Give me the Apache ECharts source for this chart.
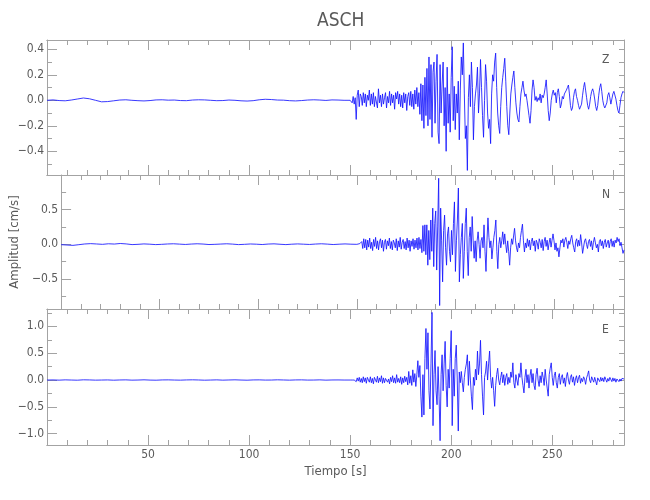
<!DOCTYPE html>
<html>
<head>
<meta charset="utf-8">
<script src="https://cdn.jsdelivr.net/npm/echarts@6/dist/echarts.min.js"></script>
<style>
html,body{margin:0;padding:0;background:#fff;}
#chart{width:650px;height:500px;}
</style>
</head>
<body>
<div id="chart"></div>
<script>
// ---- data ----
const title = 'ASCH';
const components = ['Z', 'N', 'E'];
const xLabel = 'Tiempo [s]';
const yLabel = 'Amplitud [cm/s]';
const xTicks = [50, 100, 150, 200, 250];

// quiet part: one value every 3 s, from 0 s to 147 s
const preStart = 0, preStep = 3;
const zPre = [0.000,0.003,-0.002,-0.004,0.002,0.010,0.018,0.012,0.000,-0.012,
  -0.010,-0.004,0.002,0.004,0.000,-0.003,-0.005,-0.002,0.003,0.004,
  0.001,0.002,-0.002,-0.003,0.002,0.004,0.003,0.000,-0.003,-0.002,
  0.002,0.000,-0.004,-0.006,-0.003,0.004,0.008,0.006,0.002,0.001,
  -0.003,-0.005,-0.002,0.002,0.004,0.002,-0.001,0.003,0.002,0.000];
const nPre = [-0.005,-0.010,-0.015,-0.005,0.005,0.010,0.005,0.000,0.008,0.004,
  0.012,0.006,-0.004,0.000,0.006,0.002,-0.004,0.000,0.005,0.008,
  0.003,-0.002,0.004,0.008,0.004,-0.003,0.000,0.004,0.008,0.003,
  -0.004,0.000,0.005,0.002,-0.003,0.004,0.007,0.001,-0.004,0.002,
  0.006,0.002,-0.002,0.004,0.008,0.003,-0.003,0.002,0.006,0.002];
const ePre = [0.000,0.002,-0.002,0.003,0.000,-0.003,0.004,0.002,-0.002,0.000,
  0.002,-0.003,0.001,0.003,-0.002,0.000,0.004,-0.001,-0.003,0.002,
  0.003,0.000,-0.002,0.002,0.004,0.001,-0.003,0.000,0.003,-0.002,
  0.001,0.004,0.000,-0.003,0.002,0.003,-0.001,0.000,0.004,0.001,
  -0.002,0.002,0.003,-0.001,0.000,0.003,-0.002,0.001,0.002,0.000];

// event part: one value every 0.5 s, from 150 s to 285.5 s (rows of 5 s)
const evStart = 150, evStep = 0.5;
const zEvent = [
  0.00,0.01,-0.02,0.03,-0.03,0.02,-0.15,0.04,0.08,-0.05,
  0.05,0.03,-0.04,0.06,-0.02,0.05,-0.05,0.04,0.00,0.08,
  -0.04,0.05,-0.03,0.06,-0.05,0.03,0.02,-0.06,0.09,-0.02,
  0.04,-0.05,0.05,-0.03,0.02,0.06,-0.06,0.03,-0.02,0.07,
  -0.04,0.05,-0.02,0.04,-0.07,0.06,0.01,0.07,-0.03,0.05,
  -0.05,0.04,-0.06,0.06,-0.02,0.05,-0.08,0.03,0.06,-0.04,
  0.07,-0.05,0.05,-0.07,0.08,-0.03,0.10,-0.05,0.06,-0.11,
  0.13,-0.16,0.12,-0.22,0.18,-0.12,0.25,-0.20,0.34,-0.15,
  0.28,-0.29,0.22,0.30,-0.18,0.15,0.36,-0.25,-0.34,0.28,
  -0.10,0.12,0.30,-0.20,0.10,-0.40,0.26,-0.18,0.05,-0.25,
  0.18,0.42,-0.16,0.11,-0.23,0.05,-0.10,0.15,-0.31,0.08,
  0.34,0.20,0.45,0.05,-0.30,-0.20,-0.55,0.02,0.20,-0.05,
  0.30,0.10,-0.31,-0.05,0.05,0.12,0.26,-0.10,0.05,0.32,
  0.10,-0.12,-0.29,0.00,0.28,0.15,-0.10,-0.22,-0.15,-0.34,
  0.05,0.20,0.15,0.30,0.37,0.10,-0.10,-0.20,-0.26,-0.05,
  0.10,0.18,0.25,0.33,0.15,-0.05,-0.20,-0.27,-0.10,0.05,
  0.12,0.18,0.23,0.10,-0.02,-0.10,-0.15,-0.17,-0.05,0.05,
  0.10,0.15,0.08,0.03,0.05,0.00,-0.06,-0.12,-0.18,-0.08,
  0.08,0.16,0.10,0.00,0.03,-0.01,0.02,0.00,0.05,-0.02,
  0.04,0.02,0.05,0.10,0.16,0.05,-0.08,-0.16,-0.10,0.00,
  0.05,0.08,0.04,0.06,-0.02,0.06,0.09,0.03,-0.06,-0.03,
  0.03,0.01,0.05,0.04,0.08,0.10,0.12,0.05,-0.04,-0.08,
  -0.06,0.02,0.07,0.09,0.03,0.00,-0.04,-0.07,-0.08,-0.03,
  0.04,0.10,0.14,0.08,0.02,-0.04,-0.07,-0.03,0.03,0.07,
  0.09,0.06,0.01,-0.05,-0.08,-0.04,0.04,0.10,0.13,0.07,
  0.00,-0.04,-0.06,-0.07,-0.02,0.04,0.06,0.02,-0.03,0.01,
  0.05,0.07,0.06,0.01,-0.04,-0.08,-0.10,-0.04,0.02,0.05,
  0.07,0.06];
const nEvent = [
  0.00,0.00,0.01,0.01,0.02,0.04,-0.06,0.08,-0.05,0.07,
  -0.08,0.06,-0.04,0.09,-0.06,0.03,-0.09,0.07,-0.03,0.10,
  -0.06,0.05,-0.08,0.04,0.08,-0.05,0.06,-0.10,0.03,0.07,
  -0.07,0.05,-0.02,0.09,-0.06,0.04,-0.08,0.06,0.02,-0.05,
  0.08,-0.09,0.05,-0.04,0.10,-0.07,0.03,0.07,-0.06,0.04,
  -0.08,0.09,-0.05,0.06,-0.10,0.05,-0.03,0.08,-0.07,0.06,
  -0.05,0.09,-0.08,0.10,-0.06,0.07,-0.12,0.27,-0.10,0.28,
  -0.15,0.28,-0.30,0.20,-0.22,0.35,-0.10,0.52,-0.32,0.30,
  0.48,-0.37,0.25,0.95,-0.88,0.52,0.05,-0.54,0.20,0.42,
  -0.05,-0.30,0.15,0.25,-0.10,-0.25,0.20,-0.15,0.30,0.61,
  -0.39,0.05,0.35,0.81,-0.54,-0.15,0.10,0.30,-0.49,-0.10,
  0.30,0.52,-0.10,-0.45,0.10,0.25,-0.10,0.40,0.05,-0.20,
  0.05,-0.25,0.05,0.18,0.00,-0.20,0.05,0.10,-0.05,0.28,
  -0.10,-0.39,0.05,0.38,0.10,-0.05,0.05,-0.21,-0.05,0.10,
  0.20,0.35,-0.10,-0.35,0.00,0.10,-0.05,0.05,0.18,0.00,
  0.15,0.00,-0.12,0.05,-0.10,-0.30,-0.05,0.08,0.00,0.12,
  0.23,0.05,-0.05,-0.11,0.02,-0.05,0.10,0.20,0.29,0.05,
  -0.11,0.02,-0.05,0.08,-0.03,0.06,-0.08,0.04,0.09,-0.02,
  0.05,-0.10,0.06,0.02,-0.07,0.08,0.03,-0.05,0.07,-0.09,
  0.04,0.10,-0.03,0.06,-0.08,0.02,0.09,-0.04,0.06,0.15,
  0.05,-0.08,0.02,-0.10,-0.05,-0.18,-0.05,0.06,0.02,0.08,
  -0.04,0.06,0.10,0.03,-0.06,0.05,0.00,0.08,0.13,0.02,
  -0.05,-0.11,0.04,0.08,-0.03,0.06,-0.02,0.14,0.02,-0.13,
  -0.04,0.05,0.08,0.00,-0.06,0.04,0.07,-0.03,0.05,-0.08,
  0.03,0.10,0.02,-0.05,0.00,-0.11,0.04,0.07,-0.02,0.05,
  -0.06,0.03,0.07,-0.04,0.02,0.06,-0.05,0.04,0.08,-0.03,
  0.05,-0.04,0.06,0.02,0.10,0.04,0.08,-0.02,0.03,-0.05,
  -0.13,-0.08];
const eEvent = [
  0.00,0.00,0.00,0.01,0.00,0.02,-0.03,0.04,-0.02,0.05,
  -0.04,0.03,-0.05,0.06,-0.03,0.04,-0.06,0.05,0.02,-0.04,
  0.06,-0.05,0.03,-0.07,0.05,0.02,-0.04,0.07,-0.05,0.04,
  -0.03,0.08,-0.06,0.04,-0.05,0.03,0.06,-0.04,0.02,-0.07,
  0.05,-0.03,0.08,-0.05,0.04,-0.06,0.10,-0.04,0.03,-0.05,
  0.06,-0.08,0.04,-0.05,0.07,-0.03,0.05,-0.09,0.16,-0.06,
  0.08,-0.10,0.19,-0.04,0.12,-0.12,0.10,0.36,0.05,0.27,
  -0.30,-0.69,0.10,-0.65,0.40,0.96,0.20,0.88,-0.20,-0.54,
  0.30,1.26,-0.85,0.10,0.55,-0.20,-0.46,0.25,-0.30,-1.13,
  0.10,0.47,-0.20,0.30,0.72,-0.10,-0.50,0.20,-0.15,0.40,
  0.92,-0.85,0.20,-0.30,0.40,0.65,0.00,-0.95,0.15,-0.05,
  0.16,-0.05,-0.22,0.05,0.20,0.30,0.47,-0.10,0.35,0.00,
  -0.30,-0.55,0.05,-0.10,0.20,0.00,0.54,0.10,0.30,0.74,
  0.10,-0.30,-0.65,0.05,0.15,0.35,0.00,0.30,0.54,0.05,
  -0.15,0.05,-0.20,-0.49,-0.10,0.10,0.22,0.00,-0.09,0.05,
  0.15,-0.05,0.10,-0.10,0.05,0.12,-0.08,0.05,-0.05,0.15,
  0.05,0.32,-0.05,-0.15,0.10,0.00,-0.10,0.12,0.05,0.32,
  0.05,-0.10,-0.24,0.05,0.20,-0.05,0.10,-0.15,0.08,0.20,
  -0.05,0.12,-0.10,-0.18,0.10,0.22,0.00,-0.12,0.08,-0.05,
  0.15,0.05,-0.10,0.20,0.00,-0.15,-0.30,0.10,0.22,0.32,
  0.05,-0.10,0.08,0.15,-0.05,-0.15,0.05,0.12,-0.08,0.05,
  0.10,-0.06,0.04,-0.12,0.06,0.14,0.00,-0.08,0.05,0.10,
  -0.04,0.06,-0.10,0.02,0.08,-0.05,0.04,0.09,-0.06,0.03,
  -0.03,0.06,0.02,-0.08,0.04,0.10,0.17,0.00,-0.05,0.06,
  0.03,-0.04,0.05,-0.02,-0.09,0.04,0.02,-0.03,0.05,-0.02,
  0.04,-0.03,0.06,0.01,-0.04,0.03,-0.02,0.05,0.02,-0.03,
  0.04,-0.02,0.03,-0.04,0.02,0.05,-0.03,0.02,-0.02,0.03,
  0.04,0.02];

// axis ranges and label steps per panel
const yRanges = [[-0.586, 0.473], [-0.93, 0.997], [-1.21, 1.323]];
const ySteps = [0.2, 0.5, 0.5];
const ySplits = [5, 4, 5];
const xRange = [0, 285.5];

// ---- build ----
const preList = [zPre, nPre, ePre];
const evList = [zEvent, nEvent, eEvent];
function series(k) {
  const out = [];
  preList[k].forEach((v, i) => out.push([preStart + i * preStep, v]));
  evList[k].forEach((v, i) => out.push([evStart + i * evStep, v]));
  return out;
}

const FONT = "'Liberation Sans Narrow','DejaVu Sans Condensed',sans-serif";
const AX = '#a3a3a3';
const TXT = '#5a5a5a';
const grids = [
  {left: 47, width: 577, top: 40, height: 135},
  {left: 47, width: 577, top: 175, height: 134},
  {left: 47, width: 577, top: 309, height: 136}
];

const xAxes = [], yAxes = [], seriesList = [];
grids.forEach((g, k) => {
  const last = k === grids.length - 1;
  const mk = (pos, interval, len, labels) => ({
    type: 'value', gridIndex: k, position: pos, min: xRange[0], max: xRange[1],
    interval: interval,
    axisLine: {show: true, onZero: false, lineStyle: {color: AX, width: 1}},
    axisTick: {show: true, inside: true, length: len, lineStyle: {color: AX}},
    splitLine: {show: false},
    axisLabel: labels ? {
      show: true, color: TXT, fontFamily: FONT, fontSize: 12, margin: 4,
      formatter: v => (xTicks.indexOf(Math.round(v)) >= 0 && Math.abs(v - Math.round(v)) < 1e-6) ? String(Math.round(v)) : ''
    } : {show: false},
    name: labels ? xLabel : '',
    nameLocation: 'middle', nameGap: 20,
    nameTextStyle: {color: TXT, fontFamily: FONT, fontSize: 13}
  });
  xAxes.push(mk('bottom', 10, 5, false));
  xAxes.push(mk('bottom', 50, 10, last));
  xAxes.push(mk('top', 10, 5, false));
  xAxes.push(mk('top', 50, 10, false));

  const step = ySteps[k];
  const fmt = v => {
    const r = v / step;
    if (Math.abs(r - Math.round(r)) > 1e-6) return '';
    const s = (Math.round(r) * step).toFixed(1);
    return s.replace('-', '\u2212');
  };
  const mky = (pos, len, labels) => ({
    type: 'value', gridIndex: k, position: pos,
    min: yRanges[k][0], max: yRanges[k][1], splitNumber: ySplits[k],
    axisLine: {show: true, onZero: false, lineStyle: {color: AX, width: 1}},
    axisTick: {show: true, inside: true, length: len, lineStyle: {color: AX}},
    minorTick: {show: true, splitNumber: 2, length: 5, lineStyle: {color: AX}},
    splitLine: {show: false}, minorSplitLine: {show: false},
    axisLabel: labels ? {show: true, color: TXT, fontFamily: FONT, fontSize: 12, margin: 3, formatter: fmt} : {show: false},
    name: (labels && k === 1) ? yLabel : '',
    nameLocation: 'middle', nameGap: 30, nameRotate: 90,
    nameTextStyle: {color: TXT, fontFamily: FONT, fontSize: 13}
  });
  yAxes.push(mky('left', 10, true));
  yAxes.push(mky('right', 5, false));

  seriesList.push({
    type: 'line', xAxisIndex: 4 * k, yAxisIndex: 2 * k,
    data: series(k), showSymbol: false, symbol: 'none',
    lineStyle: {color: '#1414ff', width: 0.85}, silent: true
  });
});

const chart = echarts.init(document.getElementById('chart'), null, {renderer: 'canvas'});
chart.setOption({
  animation: false,
  backgroundColor: '#fff',
  grid: grids,
  xAxis: xAxes,
  yAxis: yAxes,
  series: seriesList,
  graphic: [
    {type: 'text', left: 335 - 18, top: 12, style: {text: title, fill: TXT, font: "19px " + FONT}},
    {type: 'text', left: 602, top: 54, style: {text: components[0], fill: TXT, font: "12px " + FONT}},
    {type: 'text', left: 602, top: 189, style: {text: components[1], fill: TXT, font: "12px " + FONT}},
    {type: 'text', left: 602, top: 324, style: {text: components[2], fill: TXT, font: "12px " + FONT}}
  ]
});
</script>
</body>
</html>
